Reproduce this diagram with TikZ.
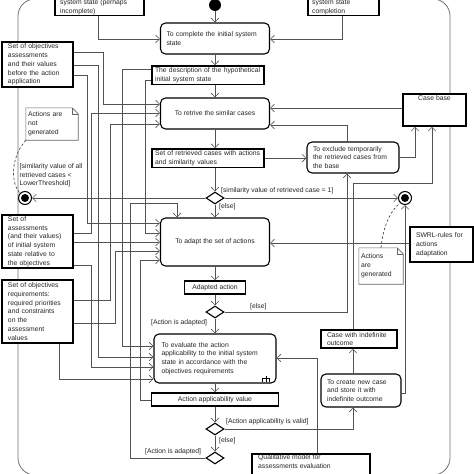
\documentclass[tikz,border=0pt]{standalone}
\usepackage{fontspec}
\setmainfont{Liberation Sans}
\usetikzlibrary{arrows.meta,shapes.geometric}
\newcommand{\fs}{\fontsize{6.8}{8.8}\selectfont}
\begin{document}
\begin{tikzpicture}[x=1pt,y=-1pt,
  conn/.style={draw=black!68, line width=0.65pt},
  arr/.style={-{Straight Barb[length=3.8pt,width=7.5pt,line width=0.65pt]}},
  act/.style={draw=black, line width=1.1pt, rounded corners=5pt, fill=white, font=\fs, inner sep=0pt, align=left, text=black!85},
  obj/.style={draw=black, line width=1.5pt, fill=white, font=\fs, inner sep=0pt, align=left, text=black!85},
  txt/.style={font=\fs, inner sep=0pt, align=left, text=black!85},
  dia/.style={diamond, draw=black, line width=1.1pt, fill=white, minimum width=18pt, minimum height=12pt, inner sep=0pt},
  fin/.style={circle, draw=black, line width=1pt, fill=white, minimum size=13pt, inner sep=0pt, path picture={\fill[black] (path picture bounding box.center) circle (4pt);}},
  notebox/.style={font=\fs, inner sep=0pt, align=left, text=black!85},
  noteline/.style={draw=black!60, line width=0.6pt},
  dep/.style={draw=black!70, line width=0.7pt, dash pattern=on 2.5pt off 2pt},
  frame/.style={draw=black!55, line width=0.8pt, rounded corners=17pt}
]
\useasboundingbox (0,0) rectangle (474,474);
\clip (0,0) rectangle (474,474);
\fill[white] (0,0) rectangle (474,474);
\draw[frame] (18,-1) rectangle (450,475);

% ---- top cut boxes
\node[obj, minimum width=89pt, minimum height=50pt, anchor=south west] (topL) at (54,16) {};
\node[txt, anchor=west] (topLtxt) at (60,7.6) {system state (perhaps\\incomplete)};
\node[obj, minimum width=71pt, minimum height=50pt, anchor=south west] (topR) at (307,16) {};
\node[txt, anchor=west] (topRtxt) at (312,7.4) {system state\\completion};

% ---- main column
\node[circle, fill=black, minimum size=12pt, inner sep=0pt] (init) at (215,5) {};
\node[act, minimum width=109pt, minimum height=31pt, text width=97pt] (compl) at (215,38.5) {To complete the initial system\\state};
\node[obj, minimum width=112pt, minimum height=18.5pt, text width=106pt] (desc) at (208,75.2) {The description of the hypothetical\\initial system state};
\node[act, minimum width=109pt, minimum height=31pt, align=center] (retr) at (215,113.5) {To retrive the similar cases};
\node[obj, minimum width=112pt, minimum height=18.5pt, text width=106pt] (setret) at (208,158.2) {Set of retrieved cases with actions\\and similarity values};
\node[dia] (d1) at (215,198) {};
\node[act, minimum width=109pt, minimum height=48pt, align=center] (adapt) at (215,242) {To adapt the set of actions};
\node[obj, minimum width=61pt, minimum height=13pt, align=center] (adapted) at (215,287.5) {Adapted action};
\node[dia] (d2) at (215,312) {};
\node[act, minimum width=122pt, minimum height=49pt, text width=107pt] (eval) at (215,358.5) {To evaluate the action\\applicability to the initial system\\state in accordance with the\\objectives requirements};
\node[obj, minimum width=127pt, minimum height=13pt, align=center] (aav) at (215,399.5) {Action applicability value};
\node[dia] (d3) at (215,429) {};
\node[dia] (d4) at (215,458) {};

% ---- right side
\node[act, minimum width=92pt, minimum height=31pt, text width=80pt] (excl) at (353,157.5) {To exclude temporarily\\the retrieved cases from\\the base};
\node[obj, minimum width=63pt, minimum height=32pt] (cb) at (434.5,110) {};
\node[txt, anchor=north] (cbtxt) at (434.5,95.5) {Case base};
\node[obj, minimum width=63pt, minimum height=35pt, text width=51pt] (swrl) at (441.5,244.5) {SWRL-rules for\\actions\\adaptation};
\node[obj, minimum width=76pt, minimum height=18pt, text width=64pt] (cio) at (359,339) {Case with indefinite\\outcome};
\node[act, minimum width=80pt, minimum height=33pt, text width=68pt] (create) at (361,390.5) {To create new case\\and store it with\\indefinite outcome};
\node[obj, minimum width=118pt, minimum height=40pt, anchor=north west] (qual) at (251,453) {};
\node[txt, anchor=west] (qualtxt) at (258,461.2) {Qualitative model for\\assessments evaluation};
\node[fin] (fin1) at (25,198) {};
\node[fin] (fin2) at (405,198) {};

% ---- left side
\node[obj, minimum width=71pt, minimum height=45pt, text width=59pt] (objA) at (37.5,64.5) {Set of objectives\\assessments\\and their values\\before the action\\application};
\node[obj, minimum width=71pt, minimum height=53pt, text width=59pt] (assess) at (37.5,241.5) {Set of\\assessments\\(and their values)\\of initial system\\state relative to\\the objectives};
\node[obj, minimum width=71pt, minimum height=63pt, text width=59pt] (objR) at (37.5,311.5) {Set of objectives\\requirements:\\required priorities\\and constraints\\on the\\assessment\\values};

% ---- notes
\node[notebox, minimum width=52pt, minimum height=32pt, text width=48pt] (ngen) at (52,124) {Actions are\\not\\generated};
\draw[noteline] (ngen.north west) -- ([xshift=-6pt]ngen.north east) -- ([yshift=-6pt]ngen.north east) -- (ngen.south east) -- (ngen.south west) -- cycle;
\draw[noteline] ([xshift=-6pt]ngen.north east) |- ([yshift=-6pt]ngen.north east);
\node[notebox, minimum width=44pt, minimum height=36pt, text width=40pt] (agen) at (381,266) {Actions\\are\\generated};
\draw[noteline] (agen.north west) -- ([xshift=-6pt]agen.north east) -- ([yshift=-6pt]agen.north east) -- (agen.south east) -- (agen.south west) -- cycle;
\draw[noteline] ([xshift=-6pt]agen.north east) |- ([yshift=-6pt]agen.north east);

% rake symbol
\draw[black, line width=0.8pt] (266,375.5) -- (266,378) (262.5,378) -- (269.5,378) (262.5,378) -- (262.5,381.5) (266,378) -- (266,381.5) (269.5,378) -- (269.5,381.5);

% ---- main flow
\draw[conn,arr] (init) -- (compl.north);
\draw[conn,arr] (compl.south) -- (compl.south |- desc.north);
\draw[conn,arr] (retr.north |- desc.south) -- (retr.north);
\draw[conn,arr] (retr.south) -- (retr.south |- setret.north);
\draw[conn,arr] (d1.north |- setret.south) -- (d1.north);
\draw[conn,arr] (d1.south) -- (adapt.north);
\draw[conn,arr] (adapt.south) -- (adapted.north);
\draw[conn,arr] (adapted.south) -- (d2.north);
\draw[conn,arr] (d2.south) -- (eval.north);
\draw[conn,arr] (eval.south) -- (aav.north);
\draw[conn,arr] (aav.south) -- (d3.north);
\draw[conn,arr] (d3.south) -- (d4.north);

% ---- decisions
\draw[conn,arr] (d1.west) -- (fin1.east);
\draw[conn,arr] (d1.east) -- (fin2.west);
\draw[conn,arr] (d2.east) -| (excl.south -| 347,0);
\draw[conn,arr] (d3.east) -| (create.south -| 353,0);
\draw[conn,arr] (d4.west) -| (130,203) -| (adapt.north -| 177,0);

% ---- right connectors
\draw[conn,arr] (setret.east) -- (excl.west |- setret.east);
\draw[conn,arr] (excl.north -| 347,0) |- (retr.east |- 0,125);
\draw[conn,arr] (excl.east) -| (cb.south -| 415,0);
\draw[conn,arr] (cb.west |- 0,108) -- (retr.east |- 0,108);
\draw[conn,arr] (swrl.west |- 0,243) -- (adapt.east |- 0,243);
\draw[conn,arr] (qual.north -| 317,0) |- (eval.east |- 0,358);
\draw[conn,arr] (create.north -| 353,0) -- (cio.south -| 353,0);
\draw[conn,arr] (cio.north -| 353,0) -- (353,183) -- (432,183) -- (cb.south -| 432,0);
\draw[conn,arr] (create.east |- 0,393) -| (fin2.south);
\draw[conn,arr] (topL.south -| 98,0) |- (compl.west |- 0,39);
\draw[conn,arr] (topR.south -| 342,0) |- (compl.east |- 0,39);

% ---- left connectors
\draw[conn,arr] (objA.east |- 0,52) -| (103,104) -- (retr.west |- 0,104);
\draw[conn,arr] (objA.east |- 0,65) -| (98,357) -- (eval.west |- 0,357);
\draw[conn,arr] (objA.east |- 0,75) -| (87,223) -- (adapt.west |- 0,223);
\draw[conn,arr] (desc.west |- 0,69.5) -| (122,346) -- (eval.west |- 0,346);
\draw[conn,arr] (desc.west |- 0,80.5) -| (145,233) -- (adapt.west |- 0,233);
\draw[conn,arr] (assess.east |- 0,233) -| (91.5,113) -- (retr.west |- 0,113);
\draw[conn,arr] (assess.east |- 0,242) -- (adapt.west |- 0,242);
\draw[conn,arr] (assess.east |- 0,265) -| (91.5,367) -- (eval.west |- 0,367);
\draw[conn,arr] (objR.east |- 0,300) -| (110,124) -- (retr.west |- 0,124);
\draw[conn,arr] (objR.east |- 0,323) -| (115,251) -- (adapt.west |- 0,251);
\draw[conn,arr] (objR.south -| 59,0) |- (eval.west |- 0,379);
\draw[conn,arr] (aav.west |- 0,400) -| (140,260) -- (adapt.west |- 0,260);

% ---- note links
\draw[dep] (ngen.south west) .. controls (10,158) and (11,184) .. (fin1.north west);
\draw[dep] (agen.north) .. controls (383,226) and (391,210) .. (fin2.south west);

% ---- guard labels
\node[txt, anchor=west] (l1) at (221,191) {[similarity value of retrieved case = 1]};
\node[txt, anchor=west] (l2) at (219,207) {[else]};
\node[txt, anchor=west] (l3) at (19.5,175.3) {[similarity value of all\\retrieved cases <\\LowerThreshold]};
\node[txt, anchor=west] (l4) at (250,306.5) {[else]};
\node[txt, anchor=west] (l5) at (151,322.5) {[Action is adapted]};
\node[txt, anchor=west] (l6) at (226,422) {[Action applicability is valid]};
\node[txt, anchor=west] (l7) at (219,441) {[else]};
\node[txt, anchor=west] (l8) at (145,452) {[Action is adapted]};
\end{tikzpicture}
\end{document}
